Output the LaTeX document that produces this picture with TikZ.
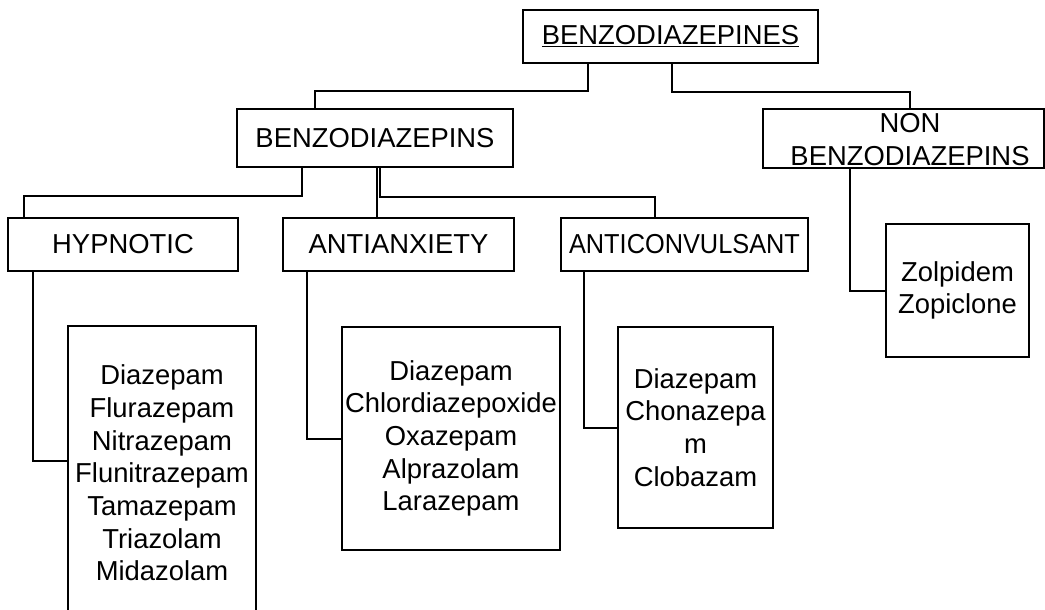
\documentclass[tikz,border=0pt]{standalone}
\usepackage{fontspec}
\setmainfont{Liberation Sans}
\usepackage{graphicx}
\begin{document}
\begin{tikzpicture}[x=1pt,y=-1pt,
  box/.style={draw, line width=2pt, rectangle, inner sep=0pt, align=center,
    font=\fontsize{27.4pt}{32.7pt}\selectfont},
  txt/.style={inner sep=0pt, align=center, font=\fontsize{27.4pt}{32.7pt}\selectfont},
  conn/.style={line width=2pt}]
\useasboundingbox (0,0) rectangle (1045,610);
\fill[white] (0,0) rectangle (1045,610);

% boxes
\node[box, minimum width=295pt, minimum height=53pt] (top) at (670.5,36.5) {\underline{BENZODIAZEPINES}};
\node[box, minimum width=276pt, minimum height=58pt] (benzo) at (375,138) {BENZODIAZEPINS};
\node[box, minimum width=281pt, minimum height=59pt] (non) at (903.5,138.5) {};
\node[txt] (nontext) at (910,139.4) {NON\\BENZODIAZEPINS};
\node[box, minimum width=230pt, minimum height=53pt] (hyp) at (123,244.5) {HYPNOTIC};
\node[box, minimum width=231pt, minimum height=53pt] (anx) at (398.5,244.5) {ANTIANXIETY};
\node[box, minimum width=247pt, minimum height=53pt] (conv) at (684.5,244.5) {\scalebox{0.925}[1]{ANTICONVULSANT}};
\node[box, minimum width=188pt, minimum height=294pt] (hypd) at (162,473)
  {Diazepam\\Flurazepam\\Nitrazepam\\Flunitrazepam\\Tamazepam\\Triazolam\\Midazolam};
\node[box, minimum width=218pt, minimum height=223pt] (anxd) at (451,438.5)
  {Diazepam\\Chlordiazepoxide\\Oxazepam\\Alprazolam\\Larazepam};
\node[box, minimum width=155pt, minimum height=201pt] (convd) at (695.5,427.5)
  {Diazepam\\Chonazepa\\m\\Clobazam};
\node[box, minimum width=143pt, minimum height=133pt] (zol) at (957.5,290.5)
  {Zolpidem\\Zopiclone};

% connectors
\draw[conn] ([xshift=-82.5pt]top.south) -- ++(0,27) -| ([xshift=-60pt]benzo.north);
\draw[conn] ([xshift=1.5pt]top.south) -- ++(0,28) -| ([xshift=6.5pt]non.north);
\draw[conn] ([xshift=-73pt]benzo.south) -- ++(0,28) -| ([xshift=-99pt]hyp.north);
\draw[conn] ([xshift=2pt]benzo.south) -- ([xshift=2pt]benzo.south |- anx.north);
\draw[conn] ([xshift=5pt]benzo.south) -- ++(0,29) -| ([xshift=-29.5pt]conv.north);
\draw[conn] ([xshift=-90pt]hyp.south) |- ([yshift=12pt]hypd.west);
\draw[conn] ([xshift=-91.5pt]anx.south) |- (anxd.west);
\draw[conn] ([xshift=-100.5pt]conv.south) |- (convd.west);
\draw[conn] ([xshift=-53.5pt]non.south) |- (zol.west);
\end{tikzpicture}
\end{document}
